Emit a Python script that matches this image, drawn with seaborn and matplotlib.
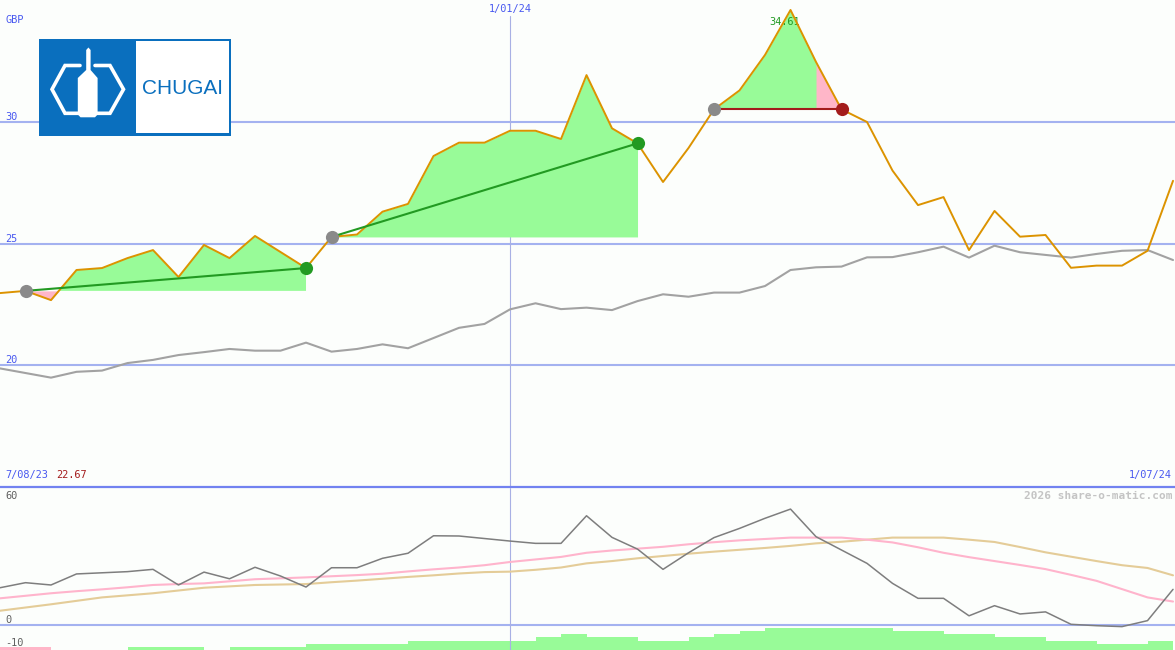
import numpy as np
import pandas as pd
import matplotlib
matplotlib.use("Agg")
import matplotlib.pyplot as plt
import seaborn as sns
from matplotlib.patches import Rectangle, Polygon

# ---------------------------------------------------------------------------
# Data (weekly closes)
# ---------------------------------------------------------------------------
WEEKS = pd.date_range("2023-08-14", "2024-07-01", freq="7D")
RANGE_START = pd.Timestamp("2023-08-07")

PRICE = [22.96, 23.05, 22.67, 23.91, 23.99, 24.40, 24.73, 23.62, 24.94, 24.40,
         25.31, 24.65, 23.99, 25.27, 25.37, 26.31, 26.63, 28.60, 29.15, 29.15,
         29.64, 29.64, 29.30, 31.93, 29.74, 29.12, 27.53, 28.93, 30.52, 31.30,
         32.76, 34.61, 32.47, 30.52, 30.00, 28.00, 26.58, 26.91, 24.73, 26.34,
         25.28, 25.35, 24.00, 24.09, 24.09, 24.70, 27.58]

INDEX = [19.86, 19.67, 19.48, 19.72, 19.77, 20.08, 20.21, 20.41, 20.53, 20.66,
         20.59, 20.59, 20.92, 20.55, 20.66, 20.85, 20.69, 21.11, 21.53, 21.69,
         22.29, 22.54, 22.30, 22.36, 22.26, 22.63, 22.91, 22.81, 22.98, 22.98,
         23.25, 23.91, 24.02, 24.05, 24.43, 24.44, 24.64, 24.87, 24.42, 24.91,
         24.64, 24.53, 24.42, 24.57, 24.70, 24.73, 24.32]

OSC = [16.2, 18.4, 17.4, 22.2, 22.7, 23.2, 24.2, 17.4, 23.0, 20.1,
       25.1, 21.3, 16.5, 24.9, 24.9, 29.0, 31.2, 38.8, 38.7, 37.6,
       36.5, 35.5, 35.5, 47.5, 38.1, 33.0, 24.2, 31.4, 38.0, 42.0,
       46.4, 50.4, 38.4, 32.6, 26.8, 18.1, 11.6, 11.6, 4.0, 8.4,
       4.8, 5.7, 0.3, -0.3, -0.7, 1.9, 15.5]

OSC_FAST = [11.6, 12.7, 13.8, 14.7, 15.5, 16.4, 17.4, 17.8, 18.1, 19.0,
            19.9, 20.3, 20.7, 21.2, 21.7, 22.3, 23.3, 24.2, 25.0, 26.0,
            27.4, 28.5, 29.6, 31.4, 32.4, 33.2, 34.0, 35.1, 36.0, 36.8,
            37.4, 38.0, 38.0, 38.0, 37.1, 35.9, 33.8, 31.4, 29.5, 27.8,
            26.1, 24.3, 21.8, 19.2, 15.6, 12.0, 10.2]

OSC_SLOW = [6.2, 7.6, 9.0, 10.5, 12.0, 12.9, 13.8, 15.0, 16.2, 16.8,
            17.4, 17.6, 17.8, 18.6, 19.3, 20.1, 20.9, 21.6, 22.4, 23.0,
            23.2, 24.0, 25.0, 26.8, 27.8, 29.0, 30.0, 31.0, 31.9, 32.7,
            33.5, 34.4, 35.5, 36.2, 37.1, 38.0, 38.0, 38.0, 37.1, 36.1,
            33.9, 31.6, 29.7, 27.8, 26.0, 24.8, 21.6]

# weekly momentum level between consecutive closes (negative = pink)
MOMENTUM = [-1, -1, 0, 0, 0, 1, 1, 1, 0, 1, 1, 1, 2, 2, 2, 2, 3, 3, 3, 3,
            3, 4, 5, 4, 4, 3, 3, 4, 5, 6, 7, 7, 7, 7, 7, 6, 6, 5, 5, 4,
            4, 3, 3, 2, 2, 3]

TRADE_ENTRY = [1, 13, 28]
TRADE_EXIT = [12, 25, 33]
TRADE_WARN = [None, None, 32]

PRICE_TICKS = [30, 25, 20]
OSC_TICKS = [60, 0, -10]
MARK_DATE = pd.Timestamp("2024-01-01")

# ---------------------------------------------------------------------------
# Style
# ---------------------------------------------------------------------------
BG = "#fcfefc"
GRID = "#a4b2f0"
SEP = "#7282f0"
LABEL = "#4858f0"
ORANGE = "#dc9300"
GREEN_FILL = "#98fb98"
PINK_FILL = "#ffb6c8"
GREEN = "#229a22"
DARK_RED = "#a31c1c"
MONO = "DejaVu Sans Mono"
FS = 7.4

sns.set_style("white")
plt.rcParams["font.family"] = [MONO, "DejaVu Sans"]

W, H = 1175, 650
fig = plt.figure(figsize=(W / 100, H / 100), dpi=100, facecolor=BG)

ax = fig.add_axes([0, 163 / H, 1, 487 / H])
ax2 = fig.add_axes([0, 0, 1, 162 / H])
ax3 = ax2.twinx()
for a in (ax, ax2, ax3):
    a.set_facecolor(BG)
    for s in a.spines.values():
        s.set_visible(False)
    a.set_xticks([])
    a.set_yticks([])

xmax = WEEKS[-1] + pd.Timedelta(hours=13)

# ---------------------------------------------------------------------------
# Price panel
# ---------------------------------------------------------------------------
for v in PRICE_TICKS:
    ax.axhline(v, color=GRID, lw=1.5, zorder=1)
    ax.text(5 / W, v, str(v), transform=ax.get_yaxis_transform(),
            color=LABEL, fontsize=FS, va="bottom", ha="left")
ax.text(5 / W, 1 - 25 / 487, "GBP", transform=ax.transAxes,
        color=LABEL, fontsize=FS, va="bottom", ha="left")

ax.axvline(MARK_DATE, ymin=0, ymax=(487 - 16) / 487, color="#a8b0e4", lw=0.8, zorder=1)
ax.text(MARK_DATE, 1 - 4 / 487, "1/01/24", transform=ax.get_xaxis_transform(),
        color=LABEL, fontsize=FS, va="top", ha="center")

price = np.array(PRICE)
for entry, exit_, warn in zip(TRADE_ENTRY, TRADE_EXIT, TRADE_WARN):
    sl = slice(entry, exit_ + 1)
    xs, ys = WEEKS[sl], price[sl]
    base = price[entry]
    ax.fill_between(xs, ys, base, where=ys >= base, interpolate=True,
                    color=GREEN_FILL, lw=0, zorder=2)
    ax.fill_between(xs, ys, base, where=ys < base, interpolate=True,
                    color=PINK_FILL, lw=0, zorder=2)
    if warn is not None:
        ax.fill_between(WEEKS[warn:exit_ + 1], price[warn:exit_ + 1], base,
                        color=PINK_FILL, lw=0, zorder=2)

sns.lineplot(x=WEEKS, y=INDEX, ax=ax, color="#a2a2a2", lw=1.5, zorder=3)
sns.lineplot(x=WEEKS, y=PRICE, ax=ax, color=ORANGE, lw=1.4, zorder=4)

for entry, exit_ in zip(TRADE_ENTRY, TRADE_EXIT):
    win = price[exit_] > price[entry]
    col = GREEN if win else DARK_RED
    ax.plot([WEEKS[entry], WEEKS[exit_]], [price[entry], price[exit_]],
            color=col, lw=1.5, zorder=5)
    ax.scatter([WEEKS[entry]], [price[entry]], s=90, color="#8a8a8a", zorder=6, lw=0)
    ax.scatter([WEEKS[exit_]], [price[exit_]], s=90, color=col, zorder=6, lw=0)

peak = int(np.argmax(price))
ax.annotate(f"{price[peak]:.2f}", (WEEKS[peak], price[peak]), xytext=(-4, -5),
            textcoords="offset points", color=GREEN, fontsize=FS,
            ha="center", va="top", zorder=3)

ax.set_xlim(WEEKS[0], xmax)
ax.set_ylim(14.98, 35.02)
ax.set_xlabel("")
ax.set_ylabel("")
ax.spines["bottom"].set_visible(True)
ax.spines["bottom"].set_color(SEP)
ax.spines["bottom"].set_linewidth(1.6)

ax.text(5 / W, 7 / 487, RANGE_START.strftime("%-d/%m/%y"),
        transform=ax.transAxes, color=LABEL, fontsize=FS, va="bottom", ha="left")
ax.text(56 / W, 7 / 487, f"{min(PRICE):.2f}", transform=ax.transAxes,
        color=DARK_RED, fontsize=FS, va="bottom", ha="left")
ax.text(1 - 3 / W, 7 / 487, WEEKS[-1].strftime("%-d/%m/%y"), transform=ax.transAxes,
        color=LABEL, fontsize=FS, va="bottom", ha="right")

# ---------------------------------------------------------------------------
# Oscillator panel
# ---------------------------------------------------------------------------
ax3.bar(WEEKS[:-1], np.abs(MOMENTUM), width=7, align="edge", lw=0,
        color=[PINK_FILL if m < 0 else GREEN_FILL for m in MOMENTUM])
ax3.set_ylim(0, 51.4)
ax3.set_yticks([])
ax2.set_zorder(ax3.get_zorder() + 1)
ax2.patch.set_visible(False)

ax2.axhline(0, color=GRID, lw=1.5, zorder=1)
ax2.axvline(MARK_DATE, color="#a8b0e4", lw=0.8, zorder=1)
sns.lineplot(x=WEEKS, y=OSC_SLOW, ax=ax2, color="#e4cc98", lw=1.5, zorder=2)
sns.lineplot(x=WEEKS, y=OSC_FAST, ax=ax2, color="#ffb4cc", lw=1.5, zorder=3)
sns.lineplot(x=WEEKS, y=OSC, ax=ax2, color="#7e7e7e", lw=1.1, zorder=4)
ax2.set_xlim(WEEKS[0], xmax)
ax3.set_xlim(WEEKS[0], xmax)
ax2.set_ylim(-10.87, 59.57)
ax2.set_xticks([])
ax2.set_yticks([])
ax2.set_xlabel("")
ax2.set_ylabel("")

for v in OSC_TICKS:
    if v == max(OSC_TICKS):
        ax2.text(5 / W, 1 - 3 / 162, str(v), transform=ax2.transAxes,
                 color="#606060", fontsize=FS, va="top", ha="left")
    else:
        ax2.text(5 / W, v, str(v), transform=ax2.get_yaxis_transform(),
                 color="#606060", fontsize=FS, va="bottom", ha="left")
ax2.text(1 - 3 / W, 1 - 3 / 162, "2026 share-o-matic.com", transform=ax2.transAxes,
         color="#c4c4c4", fontsize=8, fontweight="bold", va="top", ha="right")

# ---------------------------------------------------------------------------
# Logo (pixel overlay)
# ---------------------------------------------------------------------------
deco = fig.add_axes([0, 0, 1, 1], zorder=10)
deco.set_xlim(0, W)
deco.set_ylim(H, 0)
deco.axis("off")
deco.patch.set_alpha(0)

LOGO_BLUE = "#0a6fbe"
deco.add_patch(Rectangle((38.5, 38.5), 192.5, 97, facecolor=LOGO_BLUE, lw=0))
deco.add_patch(Rectangle((136, 41), 93, 92, facecolor="white", lw=0))
deco.text(182.5, 88, "CHUGAI", color=LOGO_BLUE, fontsize=15, ha="center", va="center",
          family=["Liberation Sans Narrow", "Liberation Sans", "DejaVu Sans"])
deco.plot([80, 65, 52, 65, 80], [65.5, 65.5, 89.3, 113.3, 113.3],
          color="white", lw=2.6, solid_joinstyle="miter")
deco.plot([95, 110, 123.5, 110, 95], [65.5, 65.5, 89.3, 113.3, 113.3],
          color="white", lw=2.6, solid_joinstyle="miter")
deco.add_patch(Polygon([(86.2, 50), (88.4, 47.5), (90.6, 50), (90.6, 70), (97.6, 78),
                        (97.6, 114.5), (95, 117.3), (80.5, 117.3), (77.8, 114.5),
                        (77.8, 78), (86.2, 70)], closed=True, facecolor="white", lw=0))

fig.savefig("out.png", dpi=100, facecolor=BG)
